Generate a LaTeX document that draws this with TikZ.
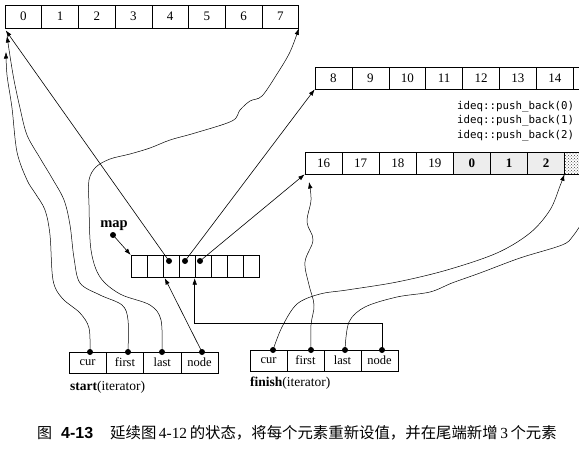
\documentclass[tikz,border=0pt]{standalone}
\usepackage{fontspec}
\setmainfont{Liberation Serif}
\newfontfamily\cjk{Noto Sans CJK SC}
\newfontfamily\monof{DejaVu Sans Mono}
\newfontfamily\capsans{Liberation Sans}
\usetikzlibrary{arrows.meta,calc,patterns}
\begin{document}
\begin{tikzpicture}[x=1pt,y=-1pt,
  cell/.style={draw, line width=0.6pt, inner sep=0pt, anchor=center, font=\fontsize{13}{13}\selectfont},
  conn/.style={line width=0.6pt, -{Latex[length=6.5pt,width=4.5pt]}},
  curv/.style={line width=0.5pt, -{Latex[length=6.5pt,width=4.5pt]}},
  dotpt/.style={circle, fill=black, inner sep=0pt, minimum size=6pt},
  lbl/.style={inner sep=0pt, font=\fontsize{13.5}{13.5}\selectfont}
]
\useasboundingbox (0,0) rectangle (579,463);
\fill[white] (0,0) rectangle (579,463);
\begin{scope}
\clip (0,0) rectangle (579,463);

% top buffer 0..7
\foreach \i in {0,...,7}
  \node[cell, minimum width=36.7pt, minimum height=23pt] (a\i) at ({23.35+36.7*\i},16.5) {\i};

% middle buffer 8..14
\foreach \v [count=\i from 0] in {8,9,10,11,12,13,14}
  \node[cell, minimum width=36.9pt, minimum height=22pt] (b\i) at ({333.45+36.9*\i},78) {\v};
\node[cell, minimum width=36.9pt, minimum height=22pt] (b7) at ({333.45+36.9*7},78) {};

% third buffer
\foreach \v [count=\i from 0] in {16,17,18,19}
  \node[cell, minimum width=37.1pt, minimum height=22pt] (c\i) at ({323.55+37.1*\i},163) {\v};
\foreach \v [count=\i from 4] in {0,1,2}
  \node[cell, minimum width=37.1pt, minimum height=22pt, fill=gray!14, font=\bfseries\fontsize{13}{13}\selectfont] (c\i) at ({323.55+37.1*\i},163) {\v};
\node[cell, minimum width=37.1pt, minimum height=22pt, pattern=crosshatch dots, pattern color=black!75] (c7) at ({323.55+37.1*7},163) {};

% push_back text
\node[anchor=west, inner sep=0pt, align=left, font=\monof\fontsize{10.8}{14.5}\selectfont] (ideq) at (457,121)
  {ideq::push\_back(0)\\ideq::push\_back(1)\\ideq::push\_back(2)};

% map
\foreach \i in {0,...,7}
  \node[cell, minimum width=16pt, minimum height=22.5pt] (m\i) at ({139+16*\i},266.5) {};
\node[dotpt] (d2) at ($(m2.center)+(-2,-5.5)$) {};
\node[dotpt] (d3) at ($(m3.center)+(-2,-5.5)$) {};
\node[dotpt] (d4) at ($(m4.center)+(-3,-5.5)$) {};
\node[lbl, font=\bfseries\fontsize{14.5}{14.5}\selectfont] (maplabel) at (114,226) {map};
\node[dotpt] (mapdot) at (113,235) {};
\draw[conn] (mapdot.center) -- (m0.north west);

% start iterator
\foreach \t [count=\i from 0] in {cur,first,last,node}
  \node[cell, minimum width=37.3pt, minimum height=21pt, font=\fontsize{12.5}{12.5}\selectfont] (s\i) at ({87.65+37.3*\i},362.5) {\t};
\node[dotpt] (sd0) at (90,352) {};
\node[dotpt] (sd1) at (128,352) {};
\node[dotpt] (sd2) at (162,352) {};
\node[dotpt] (sd3) at (202,352) {};
\node[lbl, anchor=west] (slabel) at (70,387) {\textbf{start}(iterator)};

% finish iterator
\foreach \t [count=\i from 0] in {cur,first,last,node}
  \node[cell, minimum width=37pt, minimum height=21pt, font=\fontsize{12.5}{12.5}\selectfont] (f\i) at ({268.5+37*\i},360.5) {\t};
\node[dotpt] (fd0) at (273,350) {};
\node[dotpt] (fd1) at (311,350) {};
\node[dotpt] (fd2) at (345,350) {};
\node[dotpt] (fd3) at (382,350) {};
\node[lbl, anchor=west] (flabel) at (250,383) {\textbf{finish}(iterator)};

% straight connectors from map
\draw[conn] (d2.center) -- ($(a0.south west)+(1,2)$);
\draw[conn] (d3.center) -- (b0.south west);
\draw[conn] (d4.center) -- (c0.south west);
\draw[conn] (sd3.center) -- ($(m2.south west)+(2,0)$);
\draw[conn] (fd3.center) |- ($(m4.south west)+(0,45)$) -- (m4.south west);

% start curves
\draw[curv] plot[smooth, tension=0.55] coordinates {(sd0.center) (89,328) (80,313) (62,298) (53,280) (50,235) (45,210) (35,193) (27,180) (17,152) (12,108) (7,75) (6,52)};
\draw[curv] plot[smooth, tension=0.55] coordinates {(sd1.center) (128,320) (122,305) (100,295) (80,283) (74,258) (70,225) (64,200) (52,178) (40,158) (27,135) (20,108) (14,80) (10,56) (7,36)};
\draw[curv] plot[smooth, tension=0.55] coordinates {(sd2.center) (161,320) (150,305) (120,294) (100,277) (91,250) (89,205) (89,180) (96,167) (110,159) (130,154) (150,148) (170,140) (195,133) (232,121) (240,110) (250,101) (262,96) (277,74) (290,52) (a7.south east)};

% finish curves
\draw[curv] plot[smooth, tension=0.55] coordinates {(fd0.center) (282,327) (297,304) (320,294) (347,290) (397,282) (447,270) (497,253) (530,233) (550,210) (560,186) (c7.south west)};
\draw[curv] plot[smooth, tension=0.6] coordinates {(fd1.center) (311,325) (314,305) (309,285) (305,262) (313,240) (307,222) (311,200) (309,182)};
\draw[line width=0.5pt] plot[smooth, tension=0.55] coordinates {(fd2.center) (349,322) (365,307) (397,297) (430,292) (452,283) (480,273) (520,258) (562,245) (573,236) (585,218)};

% caption
\node[anchor=west, inner sep=0pt, font=\cjk\fontsize{15}{15}\selectfont] (fig) at (37,433) {图};
\node[anchor=west, inner sep=0pt, font=\capsans\bfseries\fontsize{16}{16}\selectfont] (fignum) at (61,433) {4-13};
\node[anchor=west, inner sep=0pt, font=\fontsize{15.4}{15.4}\selectfont] (captext) at (110,433)
  {{\cjk 延续图}\,4-12\,{\cjk 的状态，将每个元素重新设值，并在尾端新增}\,3\,{\cjk 个元素}};
\end{scope}
\end{tikzpicture}
\end{document}
